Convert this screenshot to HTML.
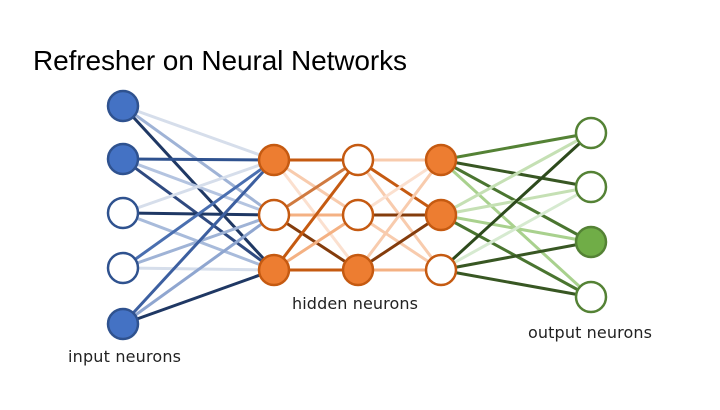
<!DOCTYPE html>
<html><head><meta charset="utf-8"><style>
body{margin:0;width:720px;height:405px;background:#fff;overflow:hidden;font-family:"Liberation Sans",sans-serif}
</style></head><body>
<svg width="720" height="405" xmlns="http://www.w3.org/2000/svg">
<text x="33" y="70" font-size="28" font-family="Liberation Sans" fill="#000" textLength="374">Refresher on Neural Networks</text>
<g stroke-width="3" fill="none">
<line x1="123" y1="106" x2="274" y2="160" stroke="#d6deeb"/>
<line x1="123" y1="106" x2="274" y2="215" stroke="#9fb3d6"/>
<line x1="123" y1="106" x2="274" y2="270" stroke="#1f3864"/>
<line x1="123" y1="159" x2="274" y2="160" stroke="#2f528f"/>
<line x1="123" y1="159" x2="274" y2="215" stroke="#b4c4e0"/>
<line x1="123" y1="159" x2="274" y2="270" stroke="#2f4a80"/>
<line x1="123" y1="213" x2="274" y2="160" stroke="#d6deeb"/>
<line x1="123" y1="213" x2="274" y2="215" stroke="#1f3864"/>
<line x1="123" y1="213" x2="274" y2="270" stroke="#a8bbdb"/>
<line x1="123" y1="268" x2="274" y2="160" stroke="#4a6fb0"/>
<line x1="123" y1="268" x2="274" y2="215" stroke="#9fb3d6"/>
<line x1="123" y1="268" x2="274" y2="270" stroke="#d6deeb"/>
<line x1="123" y1="324" x2="274" y2="160" stroke="#3c5fa0"/>
<line x1="123" y1="324" x2="274" y2="215" stroke="#8fa6d0"/>
<line x1="123" y1="324" x2="274" y2="270" stroke="#1f3864"/>
<line x1="274" y1="160" x2="358" y2="160" stroke="#c55a11"/>
<line x1="274" y1="160" x2="358" y2="215" stroke="#f8cbad"/>
<line x1="274" y1="160" x2="358" y2="270" stroke="#fbe0cf"/>
<line x1="274" y1="215" x2="358" y2="160" stroke="#d07a40"/>
<line x1="274" y1="215" x2="358" y2="215" stroke="#f4b183"/>
<line x1="274" y1="215" x2="358" y2="270" stroke="#843c0c"/>
<line x1="274" y1="270" x2="358" y2="160" stroke="#c55a11"/>
<line x1="274" y1="270" x2="358" y2="215" stroke="#f4b183"/>
<line x1="274" y1="270" x2="358" y2="270" stroke="#c55a11"/>
<line x1="358" y1="160" x2="441" y2="160" stroke="#f8cbad"/>
<line x1="358" y1="160" x2="441" y2="215" stroke="#c55a11"/>
<line x1="358" y1="160" x2="441" y2="270" stroke="#f8cbad"/>
<line x1="358" y1="215" x2="441" y2="160" stroke="#fbe0cf"/>
<line x1="358" y1="215" x2="441" y2="215" stroke="#843c0c"/>
<line x1="358" y1="215" x2="441" y2="270" stroke="#f8cbad"/>
<line x1="358" y1="270" x2="441" y2="160" stroke="#f8cbad"/>
<line x1="358" y1="270" x2="441" y2="215" stroke="#843c0c"/>
<line x1="358" y1="270" x2="441" y2="270" stroke="#f4b183"/>
<line x1="441" y1="160" x2="591" y2="133" stroke="#548235"/>
<line x1="441" y1="160" x2="591" y2="187" stroke="#385723"/>
<line x1="441" y1="160" x2="591" y2="242" stroke="#4a7530"/>
<line x1="441" y1="160" x2="591" y2="297" stroke="#a9d18e"/>
<line x1="441" y1="215" x2="591" y2="133" stroke="#c5e0b4"/>
<line x1="441" y1="215" x2="591" y2="187" stroke="#c5e0b4"/>
<line x1="441" y1="215" x2="591" y2="242" stroke="#a9d18e"/>
<line x1="441" y1="215" x2="591" y2="297" stroke="#4a7530"/>
<line x1="441" y1="270" x2="591" y2="133" stroke="#2d4a1c"/>
<line x1="441" y1="270" x2="591" y2="187" stroke="#d6ead0"/>
<line x1="441" y1="270" x2="591" y2="242" stroke="#385723"/>
<line x1="441" y1="270" x2="591" y2="297" stroke="#385723"/>
</g>
<g stroke-width="2.5">
<circle cx="123" cy="106" r="15" fill="#4472c4" stroke="#2f528f"/>
<circle cx="123" cy="159" r="15" fill="#4472c4" stroke="#2f528f"/>
<circle cx="123" cy="213" r="15" fill="#fff" stroke="#2f528f"/>
<circle cx="123" cy="268" r="15" fill="#fff" stroke="#2f528f"/>
<circle cx="123" cy="324" r="15" fill="#4472c4" stroke="#2f528f"/>
<circle cx="274" cy="160" r="15" fill="#ed7d31" stroke="#c55a11"/>
<circle cx="274" cy="215" r="15" fill="#fff" stroke="#c55a11"/>
<circle cx="274" cy="270" r="15" fill="#ed7d31" stroke="#c55a11"/>
<circle cx="358" cy="160" r="15" fill="#fff" stroke="#c55a11"/>
<circle cx="358" cy="215" r="15" fill="#fff" stroke="#c55a11"/>
<circle cx="358" cy="270" r="15" fill="#ed7d31" stroke="#c55a11"/>
<circle cx="441" cy="160" r="15" fill="#ed7d31" stroke="#c55a11"/>
<circle cx="441" cy="215" r="15" fill="#ed7d31" stroke="#c55a11"/>
<circle cx="441" cy="270" r="15" fill="#fff" stroke="#c55a11"/>
<circle cx="591" cy="133" r="15" fill="#fff" stroke="#548235"/>
<circle cx="591" cy="187" r="15" fill="#fff" stroke="#548235"/>
<circle cx="591" cy="242" r="15" fill="#70ad47" stroke="#548235"/>
<circle cx="591" cy="297" r="15" fill="#fff" stroke="#548235"/>
</g>
<g font-family="DejaVu Sans, Liberation Sans, sans-serif" font-size="16" fill="#222">
<text x="292" y="309" textLength="126">hidden neurons</text>
<text x="68" y="362" textLength="113">input neurons</text>
<text x="528" y="338" textLength="124">output neurons</text>
</g>
</svg>
</body></html>
